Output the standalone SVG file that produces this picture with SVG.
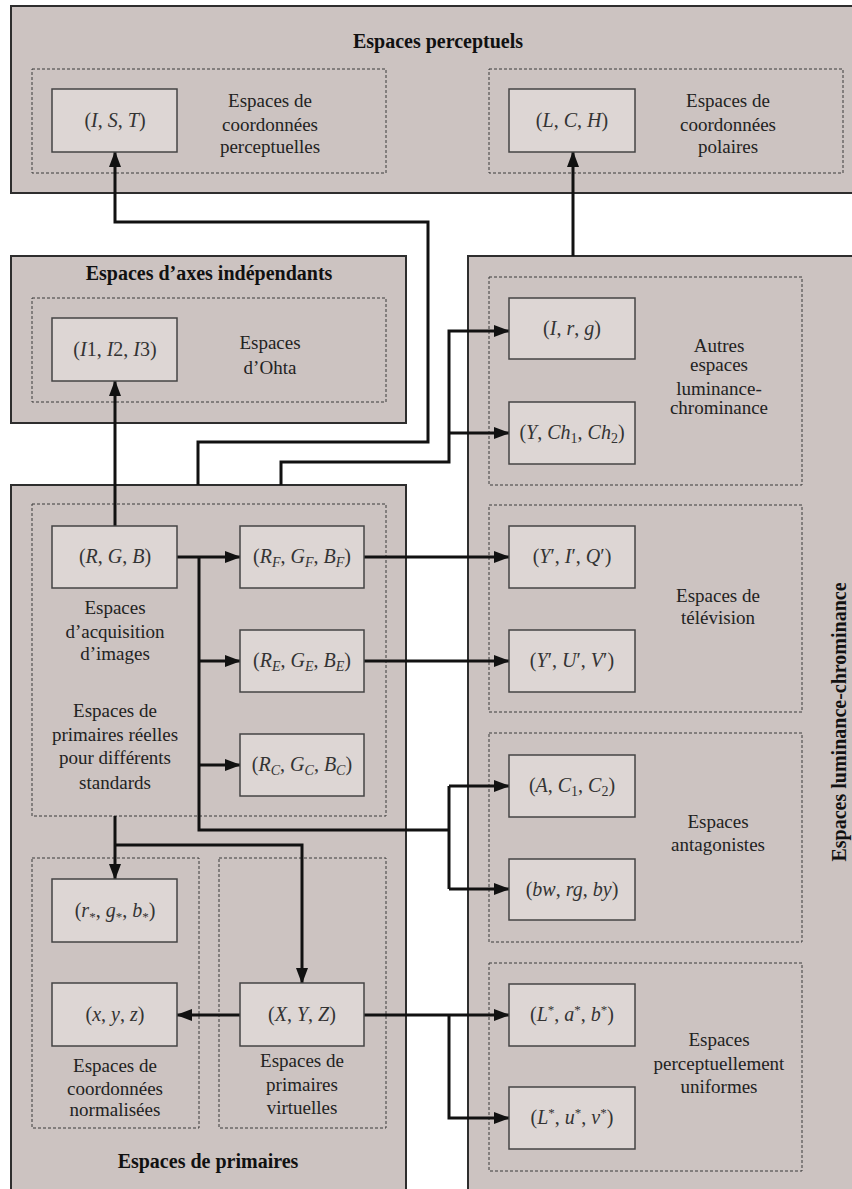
<svg xmlns="http://www.w3.org/2000/svg" width="852" height="1189" viewBox="0 0 852 1189">
<style>
.outer{fill:#ccc3c1;stroke:#2e2e2e;stroke-width:2}
.grp{fill:none;stroke:#3a3a3a;stroke-width:1;stroke-dasharray:3 2}
.node{fill:#ddd6d4;stroke:#444;stroke-width:1.5}
.t{font-family:'Liberation Serif',serif;font-size:19px;fill:#222;text-anchor:middle}
.b{font-family:'Liberation Serif',serif;font-size:20px;font-weight:bold;fill:#111;text-anchor:middle}
.m{font-family:'Liberation Serif',serif;font-size:20px;fill:#333;text-anchor:middle}
.i{font-style:italic}
.sub{font-style:italic;font-size:14px}
.subn{font-size:14px}
.sup{font-size:13px}
.c{fill:none;stroke:#111;stroke-width:3}
.ca{fill:none;stroke:#111;stroke-width:3;marker-end:url(#ah)}
</style>
<defs>
<marker id="ah" markerUnits="userSpaceOnUse" markerWidth="16" markerHeight="12" refX="15" refY="6" orient="auto">
<path d="M0,0 L16,6 L0,12 z" fill="#111"/>
</marker>
</defs>
<rect width="852" height="1189" fill="#fff"/>

<!-- Containers -->
<g id="espaces-perceptuels">
<rect class="outer" x="11" y="6" width="850" height="187"/>
<text class="b" x="438" y="48">Espaces perceptuels</text>
<rect class="grp" x="32" y="69" width="354" height="104"/>
<rect class="grp" x="489" y="69" width="354" height="104"/>
<text class="t" x="270" y="107">Espaces de</text>
<text class="t" x="270" y="131">coordonnées</text>
<text class="t" x="270" y="153">perceptuelles</text>
<text class="t" x="728" y="107">Espaces de</text>
<text class="t" x="728" y="131">coordonnées</text>
<text class="t" x="728" y="153">polaires</text>
</g>
<g id="espaces-axes-independants">
<rect class="outer" x="11" y="256" width="395" height="167"/>
<text class="b" x="209" y="280">Espaces d’axes indépendants</text>
<rect class="grp" x="32" y="298" width="354" height="104"/>
<text class="t" x="270" y="349">Espaces</text>
<text class="t" x="270" y="374">d’Ohta</text>
</g>
<g id="espaces-primaires">
<rect class="outer" x="11" y="485" width="395" height="720"/>
<rect class="grp" x="32" y="504" width="354" height="312"/>
<rect class="grp" x="32" y="858" width="167" height="270"/>
<rect class="grp" x="219" y="858" width="167" height="270"/>
<text class="t" x="115" y="614">Espaces</text>
<text class="t" x="115" y="638">d’acquisition</text>
<text class="t" x="115" y="660">d’images</text>
<text class="t" x="115" y="717">Espaces de</text>
<text class="t" x="115" y="741">primaires réelles</text>
<text class="t" x="115" y="764">pour différents</text>
<text class="t" x="115" y="789">standards</text>
<text class="t" x="115" y="1072">Espaces de</text>
<text class="t" x="115" y="1095">coordonnées</text>
<text class="t" x="115" y="1116">normalisées</text>
<text class="t" x="302" y="1067">Espaces de</text>
<text class="t" x="302" y="1091">primaires</text>
<text class="t" x="302" y="1114">virtuelles</text>
<text class="b" x="208" y="1168">Espaces de primaires</text>
</g>
<g id="espaces-luminance-chrominance">
<rect class="outer" x="468" y="256" width="400" height="950"/>
<text class="b" transform="translate(846,722) rotate(-90)">Espaces luminance-chrominance</text>
<rect class="grp" x="489" y="277" width="313" height="208"/>
<rect class="grp" x="489" y="505" width="313" height="207"/>
<rect class="grp" x="489" y="733" width="313" height="209"/>
<rect class="grp" x="489" y="963" width="313" height="208"/>
<text class="t" x="719" y="352">Autres</text>
<text class="t" x="719" y="371">espaces</text>
<text class="t" x="719" y="395">luminance-</text>
<text class="t" x="719" y="414">chrominance</text>
<text class="t" x="718" y="602">Espaces de</text>
<text class="t" x="718" y="624">télévision</text>
<text class="t" x="718" y="828">Espaces</text>
<text class="t" x="718" y="851">antagonistes</text>
<text class="t" x="719" y="1046">Espaces</text>
<text class="t" x="719" y="1070">perceptuellement</text>
<text class="t" x="719" y="1093">uniformes</text>
</g>

<!-- Connectors -->
<g id="connectors">
<path class="ca" d="M198,485 V442 H428 V222 H115 V152"/>
<path class="ca" d="M573,256 V152"/>
<path class="ca" d="M115,526 V381"/>
<path class="ca" d="M281,485 V462 H449 V331 H509"/>
<path class="ca" d="M449,433 H509"/>
<path class="ca" d="M177,557 H240"/>
<path class="c" d="M199,557 V830 H449"/>
<path class="ca" d="M199,661 H240"/>
<path class="ca" d="M199,765 H240"/>
<path class="c" d="M449,786 V889"/>
<path class="ca" d="M449,786 H509"/>
<path class="ca" d="M449,889 H509"/>
<path class="ca" d="M364,557 H509"/>
<path class="ca" d="M364,661 H509"/>
<path class="ca" d="M115,816 V879"/>
<path class="ca" d="M115,845 H302 V983"/>
<path class="ca" d="M240,1015 H177"/>
<path class="ca" d="M364,1015 H509"/>
<path class="ca" d="M449,1015 V1118 H509"/>
</g>

<!-- Nodes -->
<g id="IST"><rect class="node" x="52" y="89" width="125" height="63"/>
<text class="m" x="115" y="127">(<tspan class="i">I</tspan>, <tspan class="i">S</tspan>, <tspan class="i">T</tspan>)</text></g>
<g id="LCH"><rect class="node" x="509" y="89" width="126" height="63"/>
<text class="m" x="572" y="127">(<tspan class="i">L</tspan>, <tspan class="i">C</tspan>, <tspan class="i">H</tspan>)</text></g>
<g id="I1I2I3"><rect class="node" x="52" y="318" width="125" height="63"/>
<text class="m" x="115" y="356">(<tspan class="i">I</tspan>1, <tspan class="i">I</tspan>2, <tspan class="i">I</tspan>3)</text></g>
<g id="Irg"><rect class="node" x="509" y="298" width="126" height="61"/>
<text class="m" x="572" y="335">(<tspan class="i">I</tspan>, <tspan class="i">r</tspan>, <tspan class="i">g</tspan>)</text></g>
<g id="YCh1Ch2"><rect class="node" x="509" y="402" width="126" height="62"/>
<text class="m" x="572" y="439">(<tspan class="i">Y</tspan>, <tspan class="i">Ch</tspan><tspan class="subn" dy="4">1</tspan><tspan dy="-4">, </tspan><tspan class="i">Ch</tspan><tspan class="subn" dy="4">2</tspan><tspan dy="-4">)</tspan></text></g>
<g id="RGB"><rect class="node" x="52" y="526" width="125" height="62"/>
<text class="m" x="115" y="563">(<tspan class="i">R</tspan>, <tspan class="i">G</tspan>, <tspan class="i">B</tspan>)</text></g>
<g id="RFGFBF"><rect class="node" x="240" y="526" width="124" height="62"/>
<text class="m" x="302" y="563">(<tspan class="i">R</tspan><tspan class="sub" dy="4">F</tspan><tspan dy="-4">, </tspan><tspan class="i">G</tspan><tspan class="sub" dy="4">F</tspan><tspan dy="-4">, </tspan><tspan class="i">B</tspan><tspan class="sub" dy="4">F</tspan><tspan dy="-4">)</tspan></text></g>
<g id="REGEBE"><rect class="node" x="240" y="630" width="124" height="62"/>
<text class="m" x="302" y="667">(<tspan class="i">R</tspan><tspan class="sub" dy="4">E</tspan><tspan dy="-4">, </tspan><tspan class="i">G</tspan><tspan class="sub" dy="4">E</tspan><tspan dy="-4">, </tspan><tspan class="i">B</tspan><tspan class="sub" dy="4">E</tspan><tspan dy="-4">)</tspan></text></g>
<g id="RCGCBC"><rect class="node" x="240" y="734" width="124" height="62"/>
<text class="m" x="302" y="771">(<tspan class="i">R</tspan><tspan class="sub" dy="4">C</tspan><tspan dy="-4">, </tspan><tspan class="i">G</tspan><tspan class="sub" dy="4">C</tspan><tspan dy="-4">, </tspan><tspan class="i">B</tspan><tspan class="sub" dy="4">C</tspan><tspan dy="-4">)</tspan></text></g>
<g id="YIQ"><rect class="node" x="509" y="526" width="126" height="62"/>
<text class="m" x="572" y="563">(<tspan class="i">Y</tspan>′, <tspan class="i">I</tspan>′, <tspan class="i">Q</tspan>′)</text></g>
<g id="YUV"><rect class="node" x="509" y="630" width="126" height="62"/>
<text class="m" x="572" y="667">(<tspan class="i">Y</tspan>′, <tspan class="i">U</tspan>′, <tspan class="i">V</tspan>′)</text></g>
<g id="AC1C2"><rect class="node" x="509" y="755" width="126" height="62"/>
<text class="m" x="572" y="792">(<tspan class="i">A</tspan>, <tspan class="i">C</tspan><tspan class="subn" dy="4">1</tspan><tspan dy="-4">, </tspan><tspan class="i">C</tspan><tspan class="subn" dy="4">2</tspan><tspan dy="-4">)</tspan></text></g>
<g id="bwrgby"><rect class="node" x="509" y="859" width="126" height="61"/>
<text class="m" x="572" y="896">(<tspan class="i">bw</tspan>, <tspan class="i">rg</tspan>, <tspan class="i">by</tspan>)</text></g>
<g id="Lab"><rect class="node" x="509" y="984" width="126" height="62"/>
<text class="m" x="572" y="1021">(<tspan class="i">L</tspan><tspan class="sup" dy="-7">*</tspan><tspan dy="7">, </tspan><tspan class="i">a</tspan><tspan class="sup" dy="-7">*</tspan><tspan dy="7">, </tspan><tspan class="i">b</tspan><tspan class="sup" dy="-7">*</tspan><tspan dy="7">)</tspan></text></g>
<g id="Luv"><rect class="node" x="509" y="1087" width="126" height="62"/>
<text class="m" x="572" y="1124">(<tspan class="i">L</tspan><tspan class="sup" dy="-7">*</tspan><tspan dy="7">, </tspan><tspan class="i">u</tspan><tspan class="sup" dy="-7">*</tspan><tspan dy="7">, </tspan><tspan class="i">v</tspan><tspan class="sup" dy="-7">*</tspan><tspan dy="7">)</tspan></text></g>
<g id="rgb-star"><rect class="node" x="52" y="879" width="125" height="63"/>
<text class="m" x="115" y="917">(<tspan class="i">r</tspan><tspan class="sup" dy="4">*</tspan><tspan dy="-4">, </tspan><tspan class="i">g</tspan><tspan class="sup" dy="4">*</tspan><tspan dy="-4">, </tspan><tspan class="i">b</tspan><tspan class="sup" dy="4">*</tspan><tspan dy="-4">)</tspan></text></g>
<g id="xyz"><rect class="node" x="52" y="983" width="125" height="63"/>
<text class="m" x="115" y="1021">(<tspan class="i">x</tspan>, <tspan class="i">y</tspan>, <tspan class="i">z</tspan>)</text></g>
<g id="XYZ"><rect class="node" x="240" y="983" width="124" height="63"/>
<text class="m" x="302" y="1021">(<tspan class="i">X</tspan>, <tspan class="i">Y</tspan>, <tspan class="i">Z</tspan>)</text></g>
</svg>
